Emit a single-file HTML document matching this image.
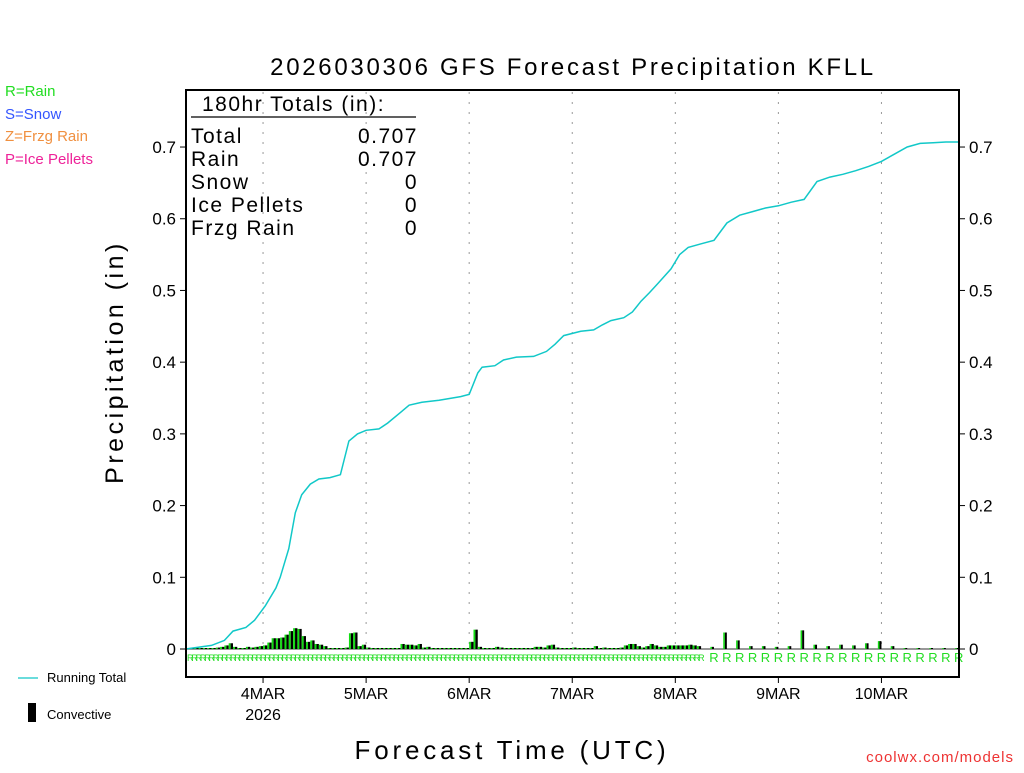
<!DOCTYPE html>
<html><head><meta charset="utf-8"><style>
body{margin:0;background:#fff;width:1024px;height:768px;overflow:hidden}
svg{font-family:"Liberation Sans","DejaVu Sans",sans-serif}
</style></head><body>
<svg id="chart" width="1024" height="768" viewBox="0 0 1024 768" xmlns="http://www.w3.org/2000/svg">
<rect width="1024" height="768" fill="#fff"/>
<text x="573" y="75" font-size="24" text-anchor="middle" fill="#000" letter-spacing="2.7">2026030306 GFS Forecast Precipitation KFLL</text>
<g font-size="15">
<text x="5" y="96" fill="#22dd22">R=Rain</text>
<text x="5" y="119" fill="#3355ff">S=Snow</text>
<text x="5" y="141" fill="#f09040">Z=Frzg Rain</text>
<text x="5" y="164" fill="#ee2299">P=Ice Pellets</text>
</g>
<g id="grid"></g>
<g id="bars"></g>
<g id="rmarks"></g>
<path id="line" fill="none" stroke="#11c8c8" stroke-width="1.5"/>
<rect x="186" y="90" width="773" height="587" fill="none" stroke="#000" stroke-width="2"/>
<g id="axes" font-size="17" fill="#000"></g>
<g font-size="21" fill="#000" letter-spacing="1.5">
<text x="202" y="111">180hr Totals (in):</text>
<line x1="191" y1="117" x2="416" y2="117" stroke="#000" stroke-width="1.2"/>
<text x="191" y="143">Total</text><text x="418" y="143" text-anchor="end">0.707</text>
<text x="191" y="166">Rain</text><text x="418" y="166" text-anchor="end">0.707</text>
<text x="191" y="189">Snow</text><text x="418" y="189" text-anchor="end">0</text>
<text x="191" y="212">Ice Pellets</text><text x="418" y="212" text-anchor="end">0</text>
<text x="191" y="235">Frzg Rain</text><text x="418" y="235" text-anchor="end">0</text>
</g>
<text transform="translate(123,362) rotate(-90)" font-size="25" text-anchor="middle" letter-spacing="3.5">Precipitation (in)</text>
<text x="512" y="759" font-size="26" text-anchor="middle" letter-spacing="3.8">Forecast Time (UTC)</text>
<text x="1014" y="762" font-size="15" text-anchor="end" fill="#ee3333" letter-spacing="1">coolwx.com/models</text>
<g font-size="13">
<line x1="18" y1="678" x2="38" y2="678" stroke="#11c8c8" stroke-width="1.2"/>
<text x="47" y="682">Running Total</text>
<rect x="28" y="703" width="8" height="19" fill="#000"/>
<text x="47" y="719">Convective</text>
</g>
</svg>
<script>
const totalHours=[0,6,9,11,14,16,18.5,21,22,24,25.5,27,29,31,33.6,36,38,40,42,45,47,50,52,55,59,64,66,68,69,72,74,77,81,84,86,88,92,95,97,99,102,104,106,108,110,113,115,117,120,123,126,129,132,135,138,141,144,147,150,153,156,159,162,165,168,171,174,177,180];
const totalValues=[0,0.005,0.012,0.025,0.03,0.04,0.06,0.085,0.1,0.14,0.19,0.215,0.23,0.237,0.239,0.243,0.29,0.3,0.305,0.307,0.315,0.33,0.34,0.344,0.347,0.352,0.355,0.385,0.393,0.395,0.403,0.407,0.408,0.415,0.425,0.437,0.443,0.445,0.452,0.458,0.462,0.47,0.485,0.497,0.51,0.53,0.55,0.56,0.565,0.57,0.594,0.605,0.61,0.615,0.618,0.623,0.627,0.652,0.658,0.662,0.667,0.673,0.68,0.69,0.7,0.705,0.706,0.707,0.707];
const convHourly=[0,0,0,0.001,0.001,0.001,0.001,0.002,0.003,0.005,0.008,0.003,0.001,0.001,0.003,0.002,0.003,0.004,0.005,0.009,0.015,0.015,0.016,0.02,0.025,0.029,0.028,0.018,0.01,0.012,0.007,0.006,0.004,0.001,0.001,0.001,0.001,0.002,0.022,0.023,0.004,0.006,0.002,0.001,0.001,0.001,0.001,0.001,0.001,0.001,0.007,0.006,0.006,0.005,0.007,0.002,0.003,0.001,0.001,0.001,0.001,0.001,0.001,0.001,0.001,0.001,0.01,0.027,0.003,0.001,0.001,0.001,0.003,0.002,0.001,0.001,0.001,0.001,0.001,0.001,0.001,0.003,0.003,0.002,0.005,0.006,0.002,0.001,0.001,0.001,0.002,0.001,0.001,0.001,0.001,0.004,0.001,0.002,0.001,0.001,0.001,0.002,0.005,0.007,0.007,0.004,0.002,0.004,0.007,0.005,0.003,0.003,0.005,0.005,0.005,0.005,0.005,0.006,0.005,0.004];
const conv3Hours=[123,126,129,132,135,138,141,144,147,150,153,156,159,162,165,168,171,174,177,180];
const conv3Values=[0.003,0.023,0.012,0.004,0.004,0.003,0.004,0.026,0.006,0.004,0.006,0.005,0.008,0.011,0.004,0.001,0,0.001,0.001,0];
const yTicks=[0,0.1,0.2,0.3,0.4,0.5,0.6,0.7];
const yTickLabels=["0","0.1","0.2","0.3","0.4","0.5","0.6","0.7"];
const dayHours=[18,42,66,90,114,138,162];
const dayLabels=["4MAR","5MAR","6MAR","7MAR","8MAR","9MAR","10MAR"];

const NS="http://www.w3.org/2000/svg";
const X=h=>185.75+h*(773/180);
const Y=v=>649-v*717.1;
function mk(tag,attrs,parent){const e=document.createElementNS(NS,tag);for(const k in attrs)e.setAttribute(k,attrs[k]);parent.appendChild(e);return e;}
const grid=document.getElementById('grid'),axes=document.getElementById('axes'),bars=document.getElementById('bars'),rm=document.getElementById('rmarks');
mk('line',{x1:186,y1:649,x2:959,y2:649,stroke:'#777','stroke-width':1.5},grid);
dayHours.forEach((h,i)=>{
  const l=mk('line',{x1:X(h),y1:92,x2:X(h),y2:647,stroke:'#999','stroke-dasharray':'2,8','stroke-width':1},grid);
  
  
  mk('line',{x1:X(h),y1:677,x2:X(h),y2:683,stroke:'#000'},axes);
  const t=mk('text',{x:X(h),y:699,'text-anchor':'middle','font-size':16},axes);
  t.textContent=dayLabels[i];
  
  
});
const yr=mk('text',{x:X(18),y:720,'text-anchor':'middle','font-size':16},axes);yr.textContent='2026';


yTicks.forEach((v,i)=>{
  mk('line',{x1:180,y1:Y(v),x2:186,y2:Y(v),stroke:'#000'},axes);
  mk('line',{x1:959,y1:Y(v),x2:965,y2:Y(v),stroke:'#000'},axes);
  const a=mk('text',{x:176,y:Y(v)+6,'text-anchor':'end'},axes);a.textContent=yTickLabels[i];
  
  
  const b=mk('text',{x:969,y:Y(v)+6},axes);b.textContent=yTickLabels[i];
  
  
});
function bar(h,v,w){
  const x=X(h)-w;const top=Y(v);const hgt=Math.max(649-top,1);
  const g=mk('rect',{x:x,y:649-hgt,width:w*0.45,height:hgt,fill:'#11dd11'},bars);
  
  
  const k=mk('rect',{x:x+w*0.45,y:649-hgt,width:w*0.55,height:hgt,fill:'#000'},bars);
  
  
}
convHourly.forEach((v,i)=>bar(i+1,v,4.29));
conv3Hours.forEach((h,i)=>bar(h,conv3Values[i],3.6));
for(let h=1;h<=120;h++){
  const t=mk('text',{x:X(h)-3,y:661,'font-size':9,fill:'#22dd22'},rm);t.textContent='R';
  
  
}
conv3Hours.forEach(h=>{
  const t=mk('text',{x:X(h),y:662,'font-size':13,fill:'#22dd22','text-anchor':'middle'},rm);t.textContent='R';
  
  
});
document.getElementById('line').setAttribute('d',totalHours.map((h,i)=>(i?'L':'M')+X(h).toFixed(1)+','+Y(totalValues[i]).toFixed(1)).join(''));
</script>
</body></html>
